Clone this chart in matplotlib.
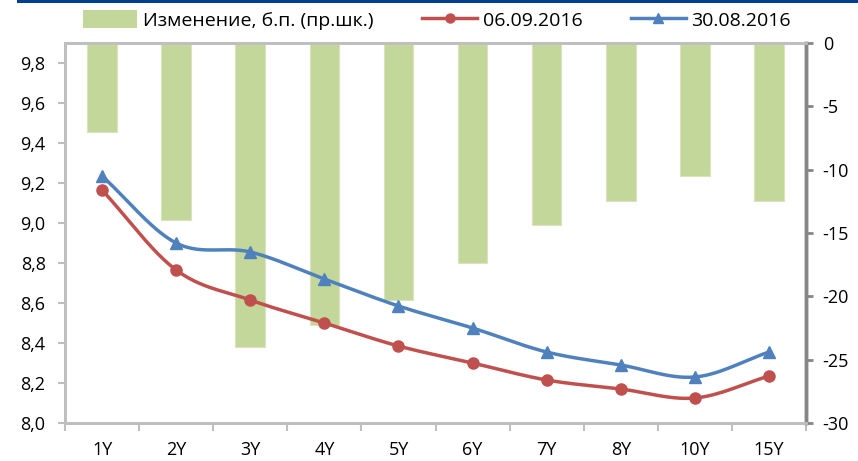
import numpy as np
import matplotlib
matplotlib.use("Agg")
import matplotlib.pyplot as plt
from matplotlib.patches import Rectangle
from matplotlib.lines import Line2D
from matplotlib.patches import Patch

plt.rcParams['font.family'] = ['Open Sans', 'DejaVu Sans']

tenors = ['1Y', '2Y', '3Y', '4Y', '5Y', '6Y', '7Y', '8Y', '10Y', '15Y']
yield_0609 = [9.165, 8.765, 8.615, 8.50, 8.385, 8.30, 8.215, 8.17, 8.125, 8.235]
yield_3008 = [9.235, 8.90, 8.855, 8.72, 8.585, 8.475, 8.355, 8.29, 8.23, 8.355]
change_bp = [-7, -14, -24, -22.3, -20.3, -17.4, -14.4, -12.5, -10.5, -12.5]

left_ticks = [8.0, 8.2, 8.4, 8.6, 8.8, 9.0, 9.2, 9.4, 9.6, 9.8]
right_ticks = [0, -5, -10, -15, -20, -25, -30]

RED = '#c0504d'
BLUE = '#4f81bd'
GREEN = '#c4d79b'
LIGHT_GRAY = '#bfbfbf'
DARK_GRAY = '#868686'
FS = 13


def smooth(xs, ys, n=30):
    """Catmull-Rom spline through the points (Excel-style smoothed line)."""
    xs = np.asarray(xs, float)
    ys = np.asarray(ys, float)
    px = np.concatenate([[2 * xs[0] - xs[1]], xs, [2 * xs[-1] - xs[-2]]])
    py = np.concatenate([[2 * ys[0] - ys[1]], ys, [2 * ys[-1] - ys[-2]]])
    out_x, out_y = [], []
    t = np.linspace(0, 1, n)
    for i in range(1, len(px) - 2):
        for p, out in ((px, out_x), (py, out_y)):
            p0, p1, p2, p3 = p[i - 1], p[i], p[i + 1], p[i + 2]
            seg = 0.5 * ((2 * p1) + (-p0 + p2) * t
                         + (2 * p0 - 5 * p1 + 4 * p2 - p3) * t ** 2
                         + (-p0 + 3 * p1 - 3 * p2 + p3) * t ** 3)
            out.extend(seg)
    return np.array(out_x), np.array(out_y)


fig = plt.figure(figsize=(8.58, 4.61), dpi=100)
ax = fig.add_axes([65 / 858, 38 / 461, (806 - 65) / 858, (423 - 43) / 461])
ax2 = ax.twinx()
ax.set_zorder(ax2.get_zorder() + 1)
ax.patch.set_visible(False)

x = np.arange(len(tenors))

# bars: change in basis points on the right axis
ax2.bar(x, change_bp, width=0.4, color=GREEN, edgecolor='#d8e4bc', linewidth=0.8)
ax2.set_ylim(-30, 0)
ax2.set_yticks(right_ticks)
ax2.set_yticklabels([str(v) for v in right_ticks])

# yield curves on the left axis
for ys, col, mk, ms in ((yield_3008, BLUE, '^', 8.5), (yield_0609, RED, 'o', 8)):
    sx, sy = smooth(x, ys)
    ax.plot(sx, sy, color=col, lw=2.5, solid_capstyle='round')
    ax.plot(x, ys, linestyle='none', marker=mk, markersize=ms, color=col)

ax.set_ylim(8.0, 9.9)
ax.set_yticks(left_ticks)
ax.set_yticklabels([f"{v:.1f}".replace('.', ',') for v in left_ticks])
ax.set_xlim(-0.5, len(tenors) - 0.5)
ax.set_xticks(np.arange(-0.5, len(tenors), 1.0))
ax.set_xticklabels([])
ax.set_xticks(x, minor=True)
ax.set_xticklabels(tenors, minor=True)
ax.tick_params(axis='x', which='minor', length=0, pad=13, labelsize=FS)
ax.tick_params(axis='x', which='major', length=6, width=1.5, color=LIGHT_GRAY, direction='out')
ax.tick_params(axis='y', length=5, width=1.5, color=LIGHT_GRAY, pad=9, labelsize=FS)
ax2.tick_params(axis='y', length=5, width=2, color=DARK_GRAY, pad=7, labelsize=FS)

for a in (ax, ax2):
    for side in ('left', 'bottom', 'top'):
        a.spines[side].set_color(LIGHT_GRAY)
        a.spines[side].set_linewidth(2)
    a.spines['right'].set_color(DARK_GRAY)
    a.spines['right'].set_linewidth(2.5)

handles = [
    Patch(facecolor=GREEN, edgecolor='none', label='Изменение, б.п. (пр.шк.)'),
    Line2D([], [], color=RED, lw=2.5, marker='o', markersize=6.5, label='06.09.2016'),
    Line2D([], [], color=BLUE, lw=2.5, marker='^', markersize=7.5, label='30.08.2016'),
]
fig.legend(handles=handles, loc='center', bbox_to_anchor=(437 / 858, 1 - 20 / 461),
           ncol=3, frameon=False, fontsize=14, handlelength=2.8, handleheight=1.0,
           columnspacing=2.5, handletextpad=0.3)

# header rule across the top
fig.add_artist(Rectangle((17 / 858, 1 - 3 / 461), 1, 3 / 461,
                         transform=fig.transFigure, color='#003f8f', lw=0))

fig.savefig('out.png', dpi=100)
